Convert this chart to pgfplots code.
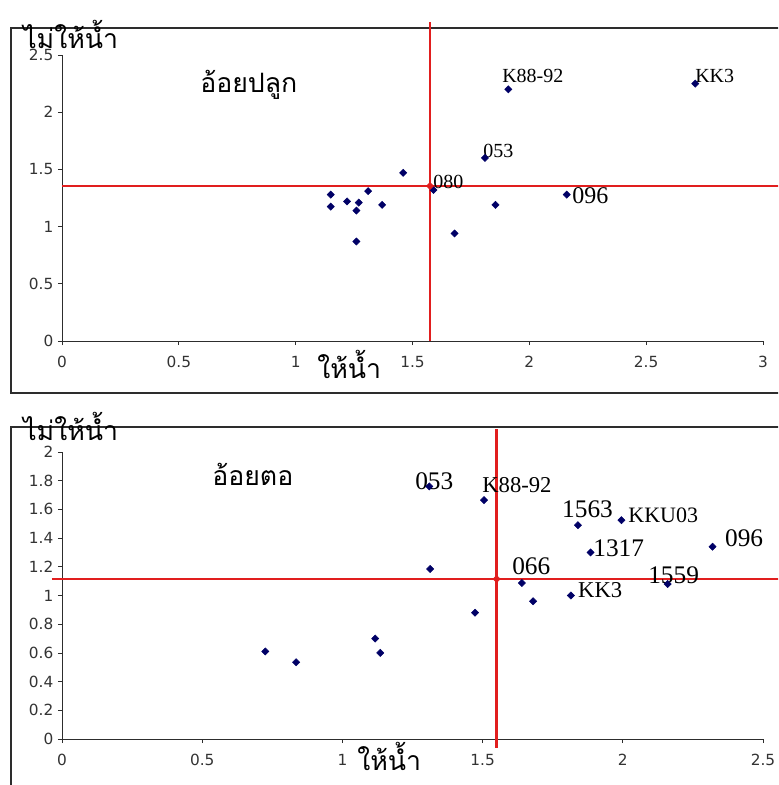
\documentclass[border=0pt]{standalone}
\usepackage{fontspec}
\setmainfont{Liberation Serif}
\newfontfamily\thaifont[Script=Thai]{Loma}
\newfontfamily\tickfont{DejaVu Sans}
\usepackage{pgfplots}
\pgfplotsset{compat=1.18}

\definecolor{ptblue}{RGB}{0,0,102}
\definecolor{refred}{RGB}{225,30,30}
\definecolor{framegray}{RGB}{45,45,45}

\tikzset{lab/.style={anchor=base west, inner sep=0pt, text=black}}
\pgfplotsset{
  quad/.style={
    scale only axis, width=525.75pt,
    axis x line=bottom, axis y line=left,
    axis line style={-, framegray, line width=0.6pt},
    tick align=outside, major tick length=3pt,
    tick style={framegray, line width=0.6pt},
    ticklabel style={font=\tickfont\fontsize{11.5}{12}\selectfont, text=black!80},
    /pgf/number format/assume math mode=true,
    xticklabel style={yshift=-5pt},
    clip=false,
  },
  pts/.style={only marks, mark=square*, mark size=1.9pt,
              mark options={rotate=45}, color=ptblue},
}

\begin{document}
\begin{tikzpicture}
\clip (0pt,0pt) rectangle (583.5pt,-588.75pt);
\useasboundingbox (0pt,0pt) rectangle (583.5pt,-588.75pt);

% frames (open at right, as in the source image)
\begin{scope}[x=0.75pt, y=-0.75pt]
  \draw[framegray, line width=0.8pt] (11,28) rectangle (800,393);
  \draw[framegray, line width=0.8pt] (11,427) rectangle (800,820);
\end{scope}

% ---------- planted cane ----------
\begin{axis}[quad, at={(46.5pt,-255.75pt)}, anchor=south west,
    height=214.5pt,
    xmin=0, xmax=3, ymin=0, ymax=2.5,
    xtick={0,0.5,...,3}, ytick={0,0.5,...,2.5}]
\addplot[refred, line width=1pt] coordinates {(0,1.355) (3.07,1.355)};
\addplot[refred, line width=2.2pt] coordinates {(1.575,0) (1.575,2.79)};
\addplot[pts] coordinates {
  (1.15,1.28) (1.15,1.175) (1.22,1.22) (1.31,1.31) (1.27,1.21)
  (1.26,1.14) (1.37,1.19) (1.26,0.87) (1.46,1.47) (1.59,1.32)
  (1.81,1.60) (1.91,2.20) (2.71,2.25) (1.855,1.19) (1.68,0.94)
  (2.16,1.28)
};
\addplot[pts, color=refred] coordinates {(1.575,1.355)};
\begin{scope}[font=\fontsize{15}{15}\selectfont]
\node[lab] at (axis cs:1.883,2.264) {K88-92};
\node[lab] at (axis cs:2.709,2.264) {KK3};
\node[lab] at (axis cs:1.802,1.600) {053};
\node[lab] at (axis cs:1.588,1.329) {080};
\end{scope}
\node[lab, font=\fontsize{18}{18}\selectfont] at (axis cs:2.183,1.206) {096};
\end{axis}

% ---------- ratoon cane ----------
\begin{axis}[quad, at={(46.5pt,-554.25pt)}, anchor=south west,
    height=215.25pt,
    xmin=0, xmax=2.5, ymin=0, ymax=2,
    xtick={0,0.5,...,2.5}, ytick={0,0.2,...,2.01}]
\addplot[refred, line width=1pt] coordinates {(-0.036,1.115) (2.57,1.115)};
\addplot[refred, line width=2.2pt] coordinates {(1.55,-0.06) (1.55,2.16)};
\addplot[pts] coordinates {
  (0.725,0.61) (0.835,0.535) (1.117,0.70) (1.135,0.60) (1.473,0.88)
  (1.68,0.96) (1.815,1.00) (2.16,1.08) (1.31,1.76) (1.505,1.665)
  (1.84,1.49) (1.995,1.525) (1.885,1.30) (2.32,1.34) (1.313,1.185)
  (1.64,1.087)
};
\addplot[pts, color=refred] coordinates {(1.55,1.115)};
\begin{scope}[font=\fontsize{19}{19}\selectfont]
\node[lab] at (axis cs:1.259,1.742) {053};
\node[lab] at (axis cs:1.783,1.547) {1563};
\node[lab] at (axis cs:1.894,1.275) {1317};
\node[lab] at (axis cs:2.364,1.345) {096};
\node[lab] at (axis cs:1.605,1.143) {066};
\node[lab] at (axis cs:2.090,1.087) {1559};
\end{scope}
\node[lab, font=\fontsize{17}{17}\selectfont] at (axis cs:1.498,1.721) {K88-92};
\node[lab, font=\fontsize{16.5}{16.5}\selectfont] at (axis cs:2.019,1.512) {KKU03};
\node[lab, font=\fontsize{17}{17}\selectfont] at (axis cs:1.840,0.983) {KK3};
\end{axis}

% Thai titles and axis names
\begin{scope}[x=0.75pt, y=-0.75pt, every node/.style={anchor=base west, inner sep=0pt},
              font=\thaifont\fontsize{20}{20}\selectfont]
  \node at (23,48) {ไม่ให้น้ำ};
  \node at (200,92) {อ้อยปลูก};
  \node at (317,378) {ให้น้ำ};
  \node at (23,440) {ไม่ให้น้ำ};
  \node at (212,485) {อ้อยตอ};
  \node at (357,770) {ให้น้ำ};
\end{scope}
\end{tikzpicture}
\end{document}
